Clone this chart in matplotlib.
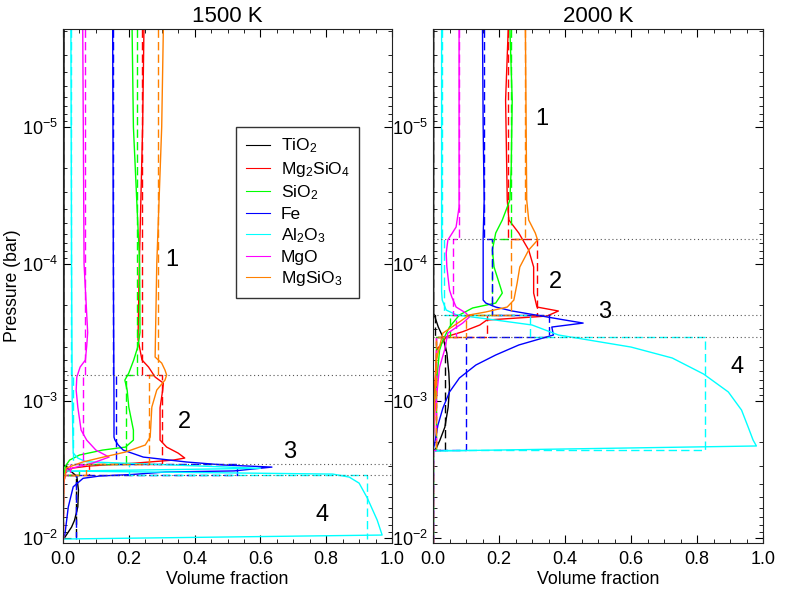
import numpy as np
import matplotlib
matplotlib.use("Agg")
import matplotlib.pyplot as plt
from matplotlib.ticker import LogLocator, MultipleLocator, NullFormatter

plt.rcParams["font.family"] = ["Liberation Sans", "DejaVu Sans"]
plt.rcParams["mathtext.default"] = "regular"

species = ["TiO$_2$", "Mg$_2$SiO$_4$", "SiO$_2$", "Fe", "Al$_2$O$_3$", "MgO", "MgSiO$_3$"]
colors = ["black", "#ff0000", "#00ff00", "#0000ff", "#00ffff", "#ff00ff", "#ff8000"]

# profiles as (log10 pressure [bar], volume fraction)
# ---- 1500 K ----
tio2_1500 = [(-5.715, 0.003), (-2.533, 0.003), (-2.496, 0.02), (-2.45, 0.042), (-2.35, 0.047),
             (-2.228, 0.045), (-2.13, 0.035), (-2.08, 0.026), (-2.0, 0.004), (-1.993, 0.0)]
mg2sio4_1500 = [(-5.715, 0.246), (-5.0, 0.242), (-4.0, 0.232), (-3.45, 0.228), (-3.30, 0.24),
                (-3.248, 0.26), (-3.175, 0.28), (-3.131, 0.305), (-3.08, 0.303), (-2.95, 0.295),
                (-2.715, 0.295), (-2.664, 0.315), (-2.62, 0.35), (-2.584, 0.37), (-2.569, 0.335),
                (-2.547, 0.22), (-2.526, 0.08), (-2.511, 0.03), (-2.48, 0.008), (-2.40, 0.002),
                (-1.993, 0.0)]
sio2_1500 = [(-5.715, 0.21), (-5.0, 0.214), (-4.0, 0.233), (-3.5, 0.234), (-3.40, 0.228),
             (-3.30, 0.215), (-3.204, 0.2), (-3.153, 0.188), (-3.08, 0.195), (-2.956, 0.2),
             (-2.788, 0.214), (-2.715, 0.214), (-2.664, 0.19), (-2.642, 0.12), (-2.606, 0.05),
             (-2.569, 0.02), (-2.52, 0.006), (-2.4, 0.002), (-1.993, 0.0)]
fe_1500 = [(-5.715, 0.151), (-4.0, 0.153), (-3.0, 0.155), (-2.737, 0.155), (-2.715, 0.158),
           (-2.679, 0.168), (-2.642, 0.183), (-2.591, 0.244), (-2.555, 0.376), (-2.533, 0.49),
           (-2.518, 0.635), (-2.49, 0.52), (-2.482, 0.31), (-2.464, 0.21), (-2.453, 0.112),
           (-2.436, 0.061), (-2.374, 0.031), (-2.226, 0.016), (-2.03, 0.006), (-1.993, 0.0)]
al2o3_1500 = [(-5.715, 0.024), (-4.0, 0.026), (-3.0, 0.028), (-2.62, 0.031), (-2.584, 0.045),
              (-2.557, 0.07), (-2.509, 0.6), (-2.489, 0.01), (-2.467, 0.82), (-2.445, 0.87),
              (-2.401, 0.90), (-2.292, 0.925), (-2.131, 0.955), (-2.022, 0.97), (-1.993, 0.0)]
mgo_1500 = [(-5.715, 0.06), (-4.0, 0.064), (-3.5, 0.075), (-3.4, 0.072), (-3.299, 0.068),
            (-3.248, 0.052), (-3.175, 0.042), (-3.08, 0.04), (-2.956, 0.045), (-2.788, 0.055),
            (-2.715, 0.072), (-2.642, 0.10), (-2.591, 0.14), (-2.547, 0.09), (-2.50, 0.01),
            (-2.4, 0.002), (-1.993, 0.0)]
mgsio3_1500 = [(-5.715, 0.305), (-5.0, 0.30), (-4.0, 0.285), (-3.321, 0.28), (-3.277, 0.30),
               (-3.226, 0.31), (-3.19, 0.315), (-3.153, 0.31), (-3.08, 0.285), (-2.956, 0.27),
               (-2.737, 0.265), (-2.679, 0.25), (-2.628, 0.19), (-2.584, 0.11), (-2.555, 0.06),
               (-2.511, 0.01), (-2.4, 0.002), (-1.993, 0.0)]

# layer edges (log10 P) and layer-mean volume fractions (dashed)
layers_1500 = [-5.715, -3.19, -2.54, -2.46, -1.993]
mean_1500 = [
    [0.0, 0.0, 0.01, 0.04],
    [0.24, 0.30, 0.08, 0.0],
    [0.225, 0.19, 0.05, 0.0],
    [0.153, 0.161, 0.53, 0.04],
    [0.025, 0.03, 0.20, 0.924],
    [0.067, 0.06, 0.02, 0.0],
    [0.29, 0.26, 0.07, 0.0],
]
labels_1500 = [(0.33, -4.03), (0.37, -2.85), (0.69, -2.63), (0.786, -2.17)]

# ---- 2000 K ----
tio2_2000 = [(-5.715, 0.002), (-3.642, 0.002), (-3.54, 0.016), (-3.467, 0.03), (-3.35, 0.042),
             (-3.204, 0.048), (-3.102, 0.05), (-2.956, 0.046), (-2.81, 0.036), (-2.715, 0.021),
             (-2.657, 0.01), (-2.635, 0.0), (-1.964, 0.0)]
mg2sio4_2000 = [(-5.715, 0.228), (-5.197, 0.22), (-4.467, 0.225), (-4.321, 0.23), (-4.226, 0.26),
                (-4.102, 0.29), (-3.978, 0.305), (-3.788, 0.305), (-3.686, 0.315), (-3.657, 0.38),
                (-3.62, 0.345), (-3.591, 0.163), (-3.555, 0.142), (-3.506, 0.09), (-3.47, 0.041),
                (-3.372, 0.011), (-3.0, 0.003), (-2.642, 0.0), (-1.964, 0.0)]
sio2_2000 = [(-5.715, 0.233), (-5.197, 0.24), (-4.70, 0.237), (-4.467, 0.233), (-4.321, 0.21),
             (-4.226, 0.19), (-4.102, 0.18), (-3.978, 0.185), (-3.788, 0.21), (-3.715, 0.19),
             (-3.679, 0.12), (-3.628, 0.08), (-3.54, 0.05), (-3.445, 0.03), (-3.372, 0.02),
             (-3.0, 0.005), (-2.642, 0.0), (-1.964, 0.0)]
fe_2000 = [(-5.715, 0.15), (-5.0, 0.152), (-4.467, 0.155), (-4.2, 0.152), (-3.737, 0.152),
           (-3.715, 0.16), (-3.686, 0.19), (-3.657, 0.24), (-3.62, 0.33), (-3.591, 0.4),
           (-3.569, 0.455), (-3.54, 0.36), (-3.482, 0.365), (-3.409, 0.26), (-3.336, 0.19),
           (-3.263, 0.13), (-3.168, 0.08), (-3.066, 0.05), (-2.949, 0.03), (-2.825, 0.015),
           (-2.679, 0.004), (-2.642, 0.0), (-1.964, 0.0)]
al2o3_2000 = [(-5.715, 0.026), (-3.8, 0.026), (-3.737, 0.028), (-3.664, 0.04), (-3.628, 0.072),
              (-3.591, 0.19), (-3.555, 0.30), (-3.482, 0.38), (-3.394, 0.6), (-3.314, 0.725),
              (-3.197, 0.82), (-3.066, 0.895), (-2.934, 0.935), (-2.81, 0.955), (-2.715, 0.97),
              (-2.672, 0.98), (-2.635, 0.0), (-1.964, 0.0)]
mgo_2000 = [(-5.715, 0.079), (-4.416, 0.079), (-4.27, 0.07), (-4.175, 0.045), (-4.08, 0.04),
            (-3.978, 0.042), (-3.81, 0.05), (-3.759, 0.057), (-3.686, 0.07), (-3.642, 0.10),
            (-3.613, 0.11), (-3.569, 0.09), (-3.496, 0.045), (-3.372, 0.035), (-3.248, 0.02),
            (-2.9, 0.005), (-2.642, 0.0), (-1.964, 0.0)]
mgsio3_2000 = [(-5.715, 0.28), (-4.467, 0.284), (-4.321, 0.29), (-4.226, 0.31), (-4.175, 0.317),
               (-4.102, 0.29), (-3.978, 0.263), (-3.861, 0.255), (-3.737, 0.245), (-3.686, 0.225),
               (-3.65, 0.16), (-3.628, 0.11), (-3.577, 0.08), (-3.496, 0.03), (-3.3, 0.01),
               (-2.9, 0.003), (-2.642, 0.0), (-1.964, 0.0)]

layers_2000 = [-5.715, -4.182, -3.628, -3.467, -2.642, -1.964]
mean_2000 = [
    [0.0, 0.0, 0.005, 0.036, 0.0],
    [0.228, 0.314, 0.163, 0.01, 0.0],
    [0.235, 0.18, 0.05, 0.01, 0.0],
    [0.155, 0.178, 0.35, 0.10, 0.0],
    [0.026, 0.033, 0.294, 0.824, 0.0],
    [0.08, 0.061, 0.07, 0.01, 0.0],
    [0.28, 0.236, 0.10, 0.01, 0.0],
]
labels_2000 = [(0.329, -5.06), (0.372, -3.87), (0.52, -3.65), (0.92, -3.25)]

profiles_1500 = [tio2_1500, mg2sio4_1500, sio2_1500, fe_1500, al2o3_1500, mgo_1500, mgsio3_1500]
profiles_2000 = [tio2_2000, mg2sio4_2000, sio2_2000, fe_2000, al2o3_2000, mgo_2000, mgsio3_2000]

fig = plt.figure(figsize=(7.86, 5.91), dpi=100)
ax1 = fig.add_axes([63 / 786, 1 - 543 / 591, 329 / 786, 514 / 591])
ax2 = fig.add_axes([433 / 786, 1 - 543 / 591, 330 / 786, 514 / 591])


def draw_panel(ax, profiles, layers, means, labels, title, n_bounds):
    handles = []
    for name, color, prof, mean in zip(species, colors, profiles, means):
        lp, x = zip(*prof)
        h, = ax.plot(x, 10 ** np.array(lp), color=color, lw=1.0, label=name)
        handles.append(h)
        # layer averages as a step profile
        sp, sx = [], []
        for i, v in enumerate(mean):
            sp += [layers[i], layers[i + 1]]
            sx += [v, v]
        ax.plot(sx, 10 ** np.array(sp), color=color, lw=1.0, ls=(0, (6, 3)))

    for b in layers[1:1 + n_bounds]:
        ax.axhline(10 ** b, color="#555555", lw=0.8, ls=(0, (1, 2.5)))

    for i, (x, lp) in enumerate(labels):
        ax.text(x, 10 ** lp, str(i + 1), fontsize=17, ha="center", va="center")

    ax.set_yscale("log")
    ax.set_ylim(10 ** -1.964, 10 ** -5.715)
    ax.set_xlim(0, 1)
    ax.yaxis.set_major_locator(LogLocator(base=10, numticks=10))
    ax.yaxis.set_minor_locator(LogLocator(base=10, subs=np.arange(2, 10), numticks=10))
    ax.yaxis.set_minor_formatter(NullFormatter())
    ax.xaxis.set_major_locator(MultipleLocator(0.2))
    ax.xaxis.set_minor_locator(MultipleLocator(0.05))
    ax.tick_params(which="both", direction="in", top=True, right=True, labelsize=13)
    ax.tick_params(which="major", length=6, width=0.8)
    ax.tick_params(which="minor", length=3, width=0.6)
    ax.tick_params(axis="x", pad=6)
    for s in ax.spines.values():
        s.set_linewidth(0.8)
        s.set_color("#222222")
    ax.set_title(title, fontsize=16, pad=5)
    ax.set_xlabel("Volume fraction", fontsize=12.8, labelpad=2)
    return handles


handles = draw_panel(ax1, profiles_1500, layers_1500, mean_1500, labels_1500, "1500 K", 3)
draw_panel(ax2, profiles_2000, layers_2000, mean_2000, labels_2000, "2000 K", 3)

ax1.set_ylabel("Pressure (bar)", fontsize=12.7)
ax1.yaxis.set_label_coords(-0.128, 0.5)

leg = ax1.legend(handles=handles, loc="upper left", bbox_to_anchor=(0.527, 0.809),
                 fontsize=12.5, frameon=True, fancybox=False, edgecolor="black",
                 handlelength=1.4, handletextpad=0.6, labelspacing=0.26, borderpad=0.55,
                 borderaxespad=0)
leg.get_frame().set_linewidth(1.0)
for line in leg.get_lines():
    line.set_linewidth(0.8)

fig.savefig("out.png", dpi=100)
